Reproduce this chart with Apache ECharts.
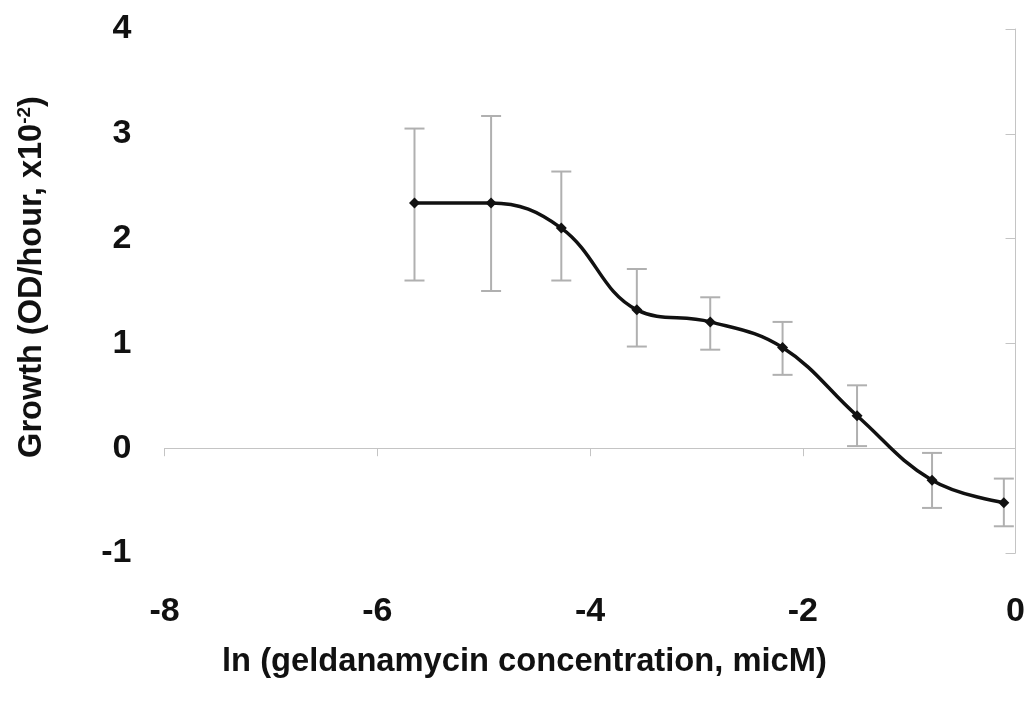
<!DOCTYPE html>
<html>
<head>
<meta charset="utf-8">
<script src="https://cdn.jsdelivr.net/npm/echarts@6/dist/echarts.min.js"></script>
<style>
html,body{margin:0;padding:0;background:#fff;}
#chart{width:1028px;height:706px;}
</style>
</head>
<body>
<div id="chart"></div>
<script>
// ln(geldanamycin concentration, micM)
const lnConc = [-5.65, -4.93, -4.27, -3.56, -2.87, -2.19, -1.49, -0.785, -0.11];
// Growth (OD/hour, x10^-2)
const growth = [2.34, 2.34, 2.10, 1.32, 1.205, 0.96, 0.31, -0.305, -0.52];
const errUpper = [3.05, 3.17, 2.64, 1.71, 1.44, 1.205, 0.60, -0.045, -0.29];
const errLower = [1.60, 1.50, 1.60, 0.97, 0.94, 0.70, 0.02, -0.57, -0.745];
const xTicks = [-8, -6, -4, -2, 0];
const yTicks = [-1, 0, 1, 2, 3, 4];

const font = 'Liberation Sans, Arial, Helvetica, sans-serif';
const axisGray = '#c4c4c4';

const lineData = lnConc.map((x, i) => [x, growth[i]]);
const errData = lnConc.map((x, i) => [x, errLower[i], errUpper[i]]);

const chart = echarts.init(document.getElementById('chart'), null, {renderer: 'canvas'});
chart.setOption({
  backgroundColor: '#ffffff',
  animation: false,
  grid: {left: 164.5, right: 8, top: 29, bottom: 153},
  xAxis: [
    {
      type: 'value', position: 'bottom',
      min: xTicks[0], max: xTicks[xTicks.length - 1], interval: 2,
      axisLine: {show: false}, axisTick: {show: false}, splitLine: {show: false},
      axisLabel: {margin: 42, fontSize: 34, fontWeight: 'bold', color: '#111', fontFamily: font}
    },
    {
      type: 'value', position: 'bottom',
      min: xTicks[0], max: xTicks[xTicks.length - 1], interval: 2,
      axisLine: {show: true, onZero: true, lineStyle: {color: axisGray, width: 1}},
      axisTick: {show: true, inside: false, length: 8, lineStyle: {color: axisGray, width: 1}},
      axisLabel: {show: false}, splitLine: {show: false}
    }
  ],
  yAxis: [
    {
      type: 'value', position: 'left',
      min: yTicks[0], max: yTicks[yTicks.length - 1], interval: 1,
      axisLine: {show: false}, axisTick: {show: false}, splitLine: {show: false},
      axisLabel: {margin: 33, fontSize: 34, fontWeight: 'bold', color: '#111', fontFamily: font},
      name: 'Growth (OD/hour, x10{sup|-2})',
      nameLocation: 'middle', nameGap: 116, nameRotate: 90,
      nameTextStyle: {
        fontSize: 32.5, fontWeight: 'bold', color: '#111', fontFamily: font,
        padding: [0, 0, 0, 28],
        rich: {sup: {fontSize: 19, fontWeight: 'bold', color: '#111', fontFamily: font, padding: [0, 0, 14, 0]}}
      }
    },
    {
      type: 'value', position: 'right',
      min: yTicks[0], max: yTicks[yTicks.length - 1], interval: 1,
      axisLine: {show: true, onZero: false, lineStyle: {color: axisGray, width: 1}},
      axisTick: {show: true, inside: true, length: 10, lineStyle: {color: axisGray, width: 1}},
      axisLabel: {show: false}, splitLine: {show: false}
    }
  ],
  graphic: [{
    type: 'text', left: 222, top: 645,
    style: {text: 'ln (geldanamycin concentration, micM)', fontSize: 32.7, fontWeight: 'bold', fill: '#111', fontFamily: font}
  }],
  series: [
    {
      type: 'custom', xAxisIndex: 0, yAxisIndex: 0, z: 2, clip: false,
      data: errData,
      renderItem: function (params, api) {
        const x = api.value(0);
        const lo = api.coord([x, api.value(1)]);
        const hi = api.coord([x, api.value(2)]);
        const hw = 10;
        const st = {stroke: '#b0b0b0', lineWidth: 2, fill: null};
        return {
          type: 'group',
          children: [
            {type: 'line', shape: {x1: hi[0], y1: hi[1], x2: lo[0], y2: lo[1]}, style: st},
            {type: 'line', shape: {x1: hi[0] - hw, y1: hi[1], x2: hi[0] + hw, y2: hi[1]}, style: st},
            {type: 'line', shape: {x1: lo[0] - hw, y1: lo[1], x2: lo[0] + hw, y2: lo[1]}, style: st}
          ]
        };
      }
    },
    {
      type: 'line', xAxisIndex: 0, yAxisIndex: 0, z: 3,
      data: lineData, smooth: 0.4,
      symbol: 'diamond', symbolSize: 11,
      lineStyle: {color: '#111', width: 3.5},
      itemStyle: {color: '#111'}
    }
  ]
});
</script>
</body>
</html>
